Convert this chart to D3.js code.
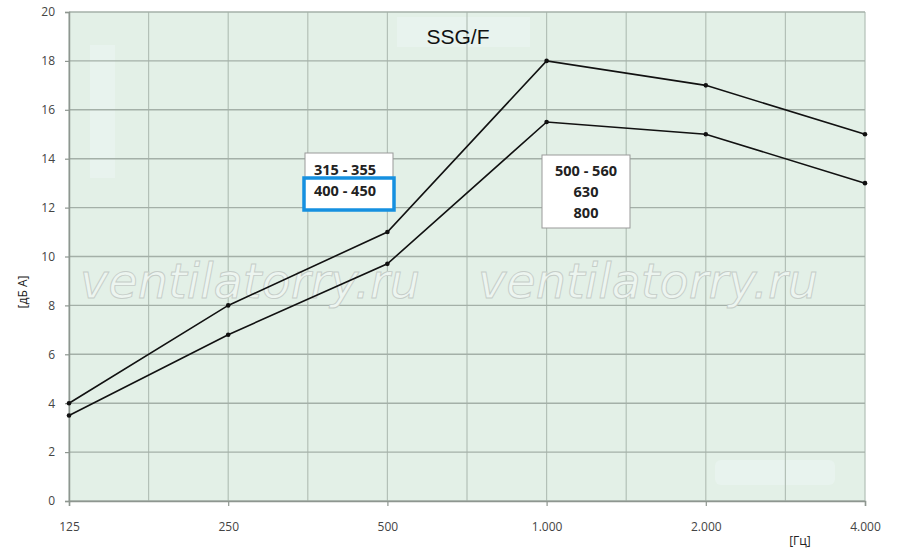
<!DOCTYPE html>
<html><head><meta charset="utf-8">
<script src="https://cdn.jsdelivr.net/npm/d3@7"></script>
<style>html,body{margin:0;padding:0;background:#fff;}svg{display:block;}</style>
</head><body>
<svg id="c" width="900" height="560"></svg>
<script>
const categories = ["125", "250", "500", "1.000", "2.000", "4.000"];
const upperSeries = [4, 8, 11, 18, 17, 15];
const lowerSeries = [3.5, 6.8, 9.7, 15.5, 15, 13];
const yTicks = [0, 2, 4, 6, 8, 10, 12, 14, 16, 18, 20];
const labelA = ["315 - 355", "400 - 450"];
const labelB = ["500 - 560", "630", "800"];
const titleText = "SSG/F";
const yTitle = "[дБ А]";
const xTitle = "[Гц]";
const watermark = "ventilatorry.ru";

const svg = d3.select("#c");
const L = 69, R = 865, T = 12, B = 501;
const x = d3.scalePoint().domain(categories).range([L, R]);
const y = d3.scaleLinear().domain([0, 20]).range([B, T]);
const step = x.step();

// background
svg.append("rect").attr("x", L).attr("y", T).attr("width", R - L).attr("height", B - T).attr("fill", "#e3f0e7");

// faint light patches
svg.append("rect").attr("x", 90).attr("y", 45).attr("width", 25).attr("height", 133).attr("fill", "#e8f3ee");
svg.append("rect").attr("x", 715).attr("y", 460).attr("width", 120).attr("height", 25).attr("rx", 6).attr("fill", "#e8f3ee");
svg.append("rect").attr("x", 397).attr("y", 17).attr("width", 133).attr("height", 30).attr("fill", "#e8f3ee");

// vertical grid (categories + midpoints)
const vg = svg.append("g").attr("stroke", "#b3c0b7").attr("stroke-width", 1.2);
categories.forEach((c, i) => {
  vg.append("line").attr("x1", x(c)).attr("x2", x(c)).attr("y1", T).attr("y2", B);
  if (i < categories.length - 1) {
    const m = x(c) + step / 2;
    vg.append("line").attr("x1", m).attr("x2", m).attr("y1", T).attr("y2", B);
  }
});
// horizontal grid
const hg = svg.append("g").attr("stroke", "#a4b0a8").attr("stroke-width", 1.4);
yTicks.forEach(t => {
  hg.append("line").attr("x1", L).attr("x2", R).attr("y1", y(t)).attr("y2", y(t));
});

// axes
const yAxis = svg.append("g").attr("transform", `translate(${L},0)`)
  .call(d3.axisLeft(y).tickValues(yTicks).tickSize(4).tickPadding(10));
const xAxis = svg.append("g").attr("transform", `translate(0,${B})`)
  .call(d3.axisBottom(x).tickSize(5).tickPadding(16));
[yAxis, xAxis].forEach(g => {
  g.select(".domain").attr("stroke", "#8e9690").attr("stroke-width", 1.5);
  g.selectAll(".tick line").attr("stroke", "#8e9690").attr("stroke-width", 1.2);
  g.selectAll("text").attr("fill", "#444").attr("font-family", "'Open Sans', sans-serif").attr("font-size", 12);
});
yAxis.selectAll(".tick line").attr("x1", 0).attr("x2", -4);

// watermark
[250, 648].forEach(cx => {
  svg.append("text").attr("x", cx).attr("y", 298).attr("text-anchor", "middle")
    .attr("font-family", "'DejaVu Sans', sans-serif").attr("font-style", "italic")
    .attr("font-size", 48).attr("fill", "#edf5f0").attr("stroke", "#c5cdc8").attr("stroke-width", 0.9)
    .attr("textLength", 340).attr("lengthAdjust", "spacingAndGlyphs")
    .text(watermark);
});

// lines
const line = d3.line().x((d, i) => x(categories[i])).y(d => y(d));
[upperSeries, lowerSeries].forEach(s => {
  svg.append("path").datum(s).attr("d", line).attr("fill", "none").attr("stroke", "#111").attr("stroke-width", 1.6);
  svg.selectAll(null).data(s).enter().append("circle")
    .attr("cx", (d, i) => x(categories[i])).attr("cy", d => y(d)).attr("r", 2.3).attr("fill", "#111");
});

// title
svg.append("text").attr("x", 458).attr("y", 44).attr("text-anchor", "middle")
  .attr("font-family", "'Liberation Sans', Arial, sans-serif").attr("font-size", 21).attr("fill", "#111").text(titleText);

// label box A
svg.append("rect").attr("x", 305).attr("y", 153).attr("width", 88).attr("height", 56)
  .attr("fill", "#fff").attr("stroke", "#999").attr("stroke-width", 1);
svg.append("rect").attr("x", 304).attr("y", 178).attr("width", 90).attr("height", 32)
  .attr("fill", "#fff").attr("stroke", "#1690e0").attr("stroke-width", 3.5);
labelA.forEach((t, i) => {
  svg.append("text").attr("x", 345).attr("y", 175 + i * 21).attr("text-anchor", "middle")
    .attr("font-family", "'Open Sans', sans-serif").attr("font-weight", "bold").attr("font-size", 14.5).attr("fill", "#222").text(t);
});

// label box B
svg.append("rect").attr("x", 542).attr("y", 155).attr("width", 88).attr("height", 73)
  .attr("fill", "#fff").attr("stroke", "#999").attr("stroke-width", 1);
labelB.forEach((t, i) => {
  svg.append("text").attr("x", 586).attr("y", 176 + i * 21).attr("text-anchor", "middle")
    .attr("font-family", "'Open Sans', sans-serif").attr("font-weight", "bold").attr("font-size", 14.5).attr("fill", "#222").text(t);
});

// axis titles
svg.append("text").attr("transform", "translate(27,292) rotate(-90)").attr("text-anchor", "middle")
  .attr("font-family", "'Open Sans', sans-serif").attr("font-size", 12).attr("fill", "#222").text(yTitle);
svg.append("text").attr("x", 800).attr("y", 545).attr("text-anchor", "middle")
  .attr("font-family", "'Open Sans', sans-serif").attr("font-size", 12).attr("fill", "#222").text(xTitle);
</script>
</body></html>
